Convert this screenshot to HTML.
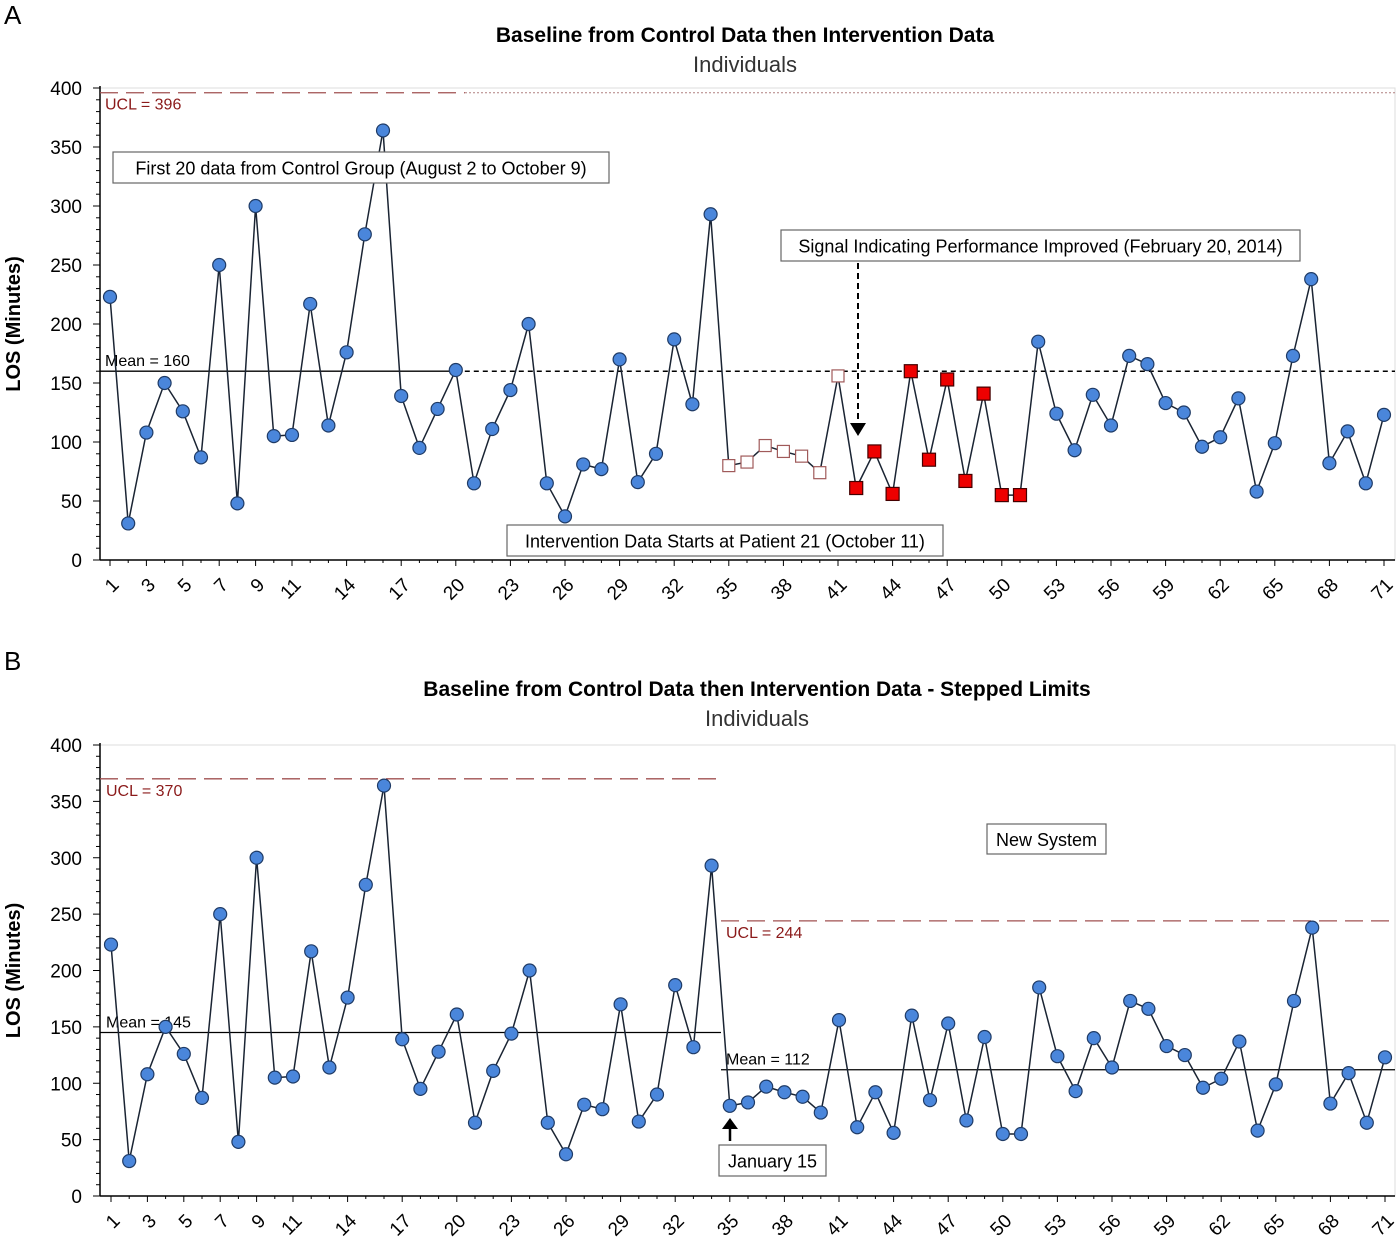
<!DOCTYPE html>
<html><head><meta charset="utf-8"><style>
body{margin:0;background:#fff;}
svg{display:block;font-family:"Liberation Sans",sans-serif;}
</style></head><body>
<svg id="svg" width="1400" height="1243" viewBox="0 0 1400 1243" xmlns="http://www.w3.org/2000/svg"></svg>
<script>
const patients = Array.from({length:71},(_,i)=>i+1);
const losValues = [223,31,108,150,126,87,250,48,300,105,106,217,114,176,276,364,139,95,128,161,65,111,144,200,65,37,81,77,170,66,90,187,132,293,80,83,97,92,88,74,156,61,92,56,160,85,153,67,141,55,55,185,124,93,140,114,173,166,133,125,96,104,137,58,99,173,238,82,109,65,123];
// marker type per patient: c=circle, o=open square, r=red square (chart A)
const markerTypesA = "cccccccccccccccccccccccccccccccccc" + "ooooooo" + "rrrrrrrrrr" + "cccccccccccccccccccc";
const xTickLabels = [1,3,5,7,9,11,14,17,20,23,26,29,32,35,38,41,44,47,50,53,56,59,62,65,68,71];
const yTicks = [0,50,100,150,200,250,300,350,400];
const meanA = 160, uclA = 396;
const meanB1 = 145, uclB1 = 370, meanB2 = 112, uclB2 = 244;

const NS="http://www.w3.org/2000/svg";
const svg=document.getElementById('svg');
function el(tag,attrs,parent){const e=document.createElementNS(NS,tag);for(const k in attrs)e.setAttribute(k,attrs[k]);(parent||svg).appendChild(e);return e;}
function txt(s,attrs,parent){const e=el('text',attrs,parent);e.textContent=s;return e;}

function chart(cfg){
  const g=el('g',{});
  
  
  const X=p=>cfg.x1+(p-1)*(cfg.x71-cfg.x1)/70;
  const Y=v=>cfg.y0-(v/400)*(cfg.y0-cfg.y400);
  const fr=el('rect',{x:100,y:cfg.y400,width:1295,height:cfg.y0-cfg.y400,fill:'none',stroke:'#ddd','stroke-width':1},g);
  
  const ya=el('line',{x1:100,y1:cfg.y400-2,x2:100,y2:cfg.y0,stroke:'#000','stroke-width':1.5},g);
  
  const xa=el('line',{x1:100,y1:cfg.y0,x2:1395,y2:cfg.y0,stroke:'#000','stroke-width':1.5},g);
  
  for(let v=0;v<=400;v+=10){el('line',{x1:v%50?96:93,y1:Y(v),x2:100,y2:Y(v),stroke:'#000','stroke-width':1},g);}
  yTicks.forEach(v=>{const t=txt(String(v),{x:82,y:Y(v)+7,'font-size':19,'text-anchor':'end'},g);
    });
  patients.forEach(p=>el('line',{x1:X(p),y1:cfg.y0,x2:X(p),y2:cfg.y0+(xTickLabels.includes(p)?6:3),stroke:'#000','stroke-width':1},g));
  xTickLabels.forEach(p=>{const t=txt(String(p),{x:0,y:0,'font-size':19,'text-anchor':'end',transform:`translate(${X(p)+10},${cfg.y0+26}) rotate(-45)`},g);
    });
  const yt=txt('LOS (Minutes)',{x:0,y:0,'font-size':20,'font-weight':'bold','text-anchor':'middle',transform:`translate(20,${(cfg.y0+cfg.y400)/2}) rotate(-90)`},g);
  
  const t1=txt(cfg.title,{x:cfg.tx,y:cfg.ty,'font-size':21,'font-weight':'bold','text-anchor':'middle'},g);
  
  const t2=txt('Individuals',{x:cfg.tx,y:cfg.ty+30,'font-size':22,fill:'#333','text-anchor':'middle'},g);
  
  const pl=txt(cfg.panel,{x:4,y:cfg.panelY,'font-size':26},g);
  
  cfg.extra(g,X,Y);
  const pts=patients.map((p,i)=>X(p)+','+Y(losValues[i])).join(' ');
  const ln=el('polyline',{points:pts,fill:'none',stroke:'#1a2433','stroke-width':1.5},g);
  
  patients.forEach((p,i)=>{
    const t=cfg.types?cfg.types[i]:'c';const cx=X(p),cy=Y(losValues[i]);let m;
    if(t==='c'){m=el('circle',{cx,cy,r:6.5,fill:'#4a86db',stroke:'#1f3b66','stroke-width':1.2},g);}
    else if(t==='o'){m=el('rect',{x:cx-6,y:cy-6,width:12,height:12,fill:'#fff',stroke:'#a05a5a','stroke-width':1.2},g);}
    else {m=el('rect',{x:cx-6.5,y:cy-6.5,width:13,height:13,fill:'#ee0000',stroke:'#400','stroke-width':1.2},g);}
    
    
  });
  (cfg.after||(()=>{}))(g,X,Y);
}
function box(g,x,y,w,h,s,name){const r=el('rect',{x,y,width:w,height:h,fill:'#fff',stroke:'#666','stroke-width':1.2},g);
  
  const t=txt(s,{x:x+w/2,y:y+h/2+7,'font-size':18,'text-anchor':'middle'},g);
  }

chart({name:'chart-a',panel:'A',panelY:24,x1:110,x71:1384,y0:560,y400:88,tx:745,ty:42,types:markerTypesA,
 title:'Baseline from Control Data then Intervention Data',
 extra:(g,X,Y)=>{
  const u1=el('line',{x1:100,y1:Y(uclA),x2:465,y2:Y(uclA),stroke:'#a05050','stroke-width':1.3,'stroke-dasharray':'18,8'},g);
  
  el('line',{x1:465,y1:Y(uclA),x2:1395,y2:Y(uclA),stroke:'#b08080','stroke-width':1,'stroke-dasharray':'2,2'},g);
  const ul=txt('UCL = 396',{x:105,y:Y(uclA)+17,'font-size':16,fill:'#8b1a1a'},g);
  const m1=el('line',{x1:100,y1:Y(meanA),x2:X(20),y2:Y(meanA),stroke:'#000','stroke-width':1.3},g);
  
  el('line',{x1:X(20),y1:Y(meanA),x2:1395,y2:Y(meanA),stroke:'#000','stroke-width':1.5,'stroke-dasharray':'5,4'},g);
  const ml=txt('Mean = 160',{x:105,y:Y(meanA)-5,'font-size':16},g);
 },
 after:(g,X,Y)=>{
  box(g,113,152,496,31,'First 20 data from Control Group (August 2 to October 9)','control-group-annotation');
  box(g,781,230,519,31,'Signal Indicating Performance Improved (February 20, 2014)','signal-annotation');
  box(g,507,525,436,31,'Intervention Data Starts at Patient 21 (October 11)','intervention-annotation');
  el('line',{x1:858,y1:263,x2:858,y2:425,stroke:'#000','stroke-width':2,'stroke-dasharray':'6,4'},g);
  const a=el('polygon',{points:'850,423 866,423 858,436',fill:'#000'},g);
 }});

chart({name:'chart-b',panel:'B',panelY:670,x1:111,x71:1385,y0:1196,y400:745,tx:757,ty:696,
 title:'Baseline from Control Data then Intervention Data - Stepped Limits',
 extra:(g,X,Y)=>{
  const sx=721;
  const u1=el('line',{x1:100,y1:Y(uclB1),x2:sx,y2:Y(uclB1),stroke:'#a05050','stroke-width':1.3,'stroke-dasharray':'18,8'},g);
  
  const u2=el('line',{x1:sx,y1:Y(uclB2),x2:1395,y2:Y(uclB2),stroke:'#a05050','stroke-width':1.3,'stroke-dasharray':'18,8'},g);
  
  const l1=txt('UCL = 370',{x:106,y:Y(uclB1)+17,'font-size':16,fill:'#8b1a1a'},g);
  const l2=txt('UCL = 244',{x:726,y:Y(uclB2)+17,'font-size':16,fill:'#8b1a1a'},g);
  const m1=el('line',{x1:100,y1:Y(meanB1),x2:sx,y2:Y(meanB1),stroke:'#000','stroke-width':1.3},g);
  
  const m2=el('line',{x1:sx,y1:Y(meanB2),x2:1395,y2:Y(meanB2),stroke:'#000','stroke-width':1.3},g);
  
  const a1=txt('Mean = 145',{x:106,y:Y(meanB1)-5,'font-size':16},g);
  const a2=txt('Mean = 112',{x:726,y:Y(meanB2)-5,'font-size':16},g);
 },
 after:(g,X,Y)=>{
  box(g,987,824,119,30,'New System','new-system-annotation');
  box(g,719,1145,107,31,'January 15','january-15-annotation');
  el('line',{x1:730,y1:1141,x2:730,y2:1126,stroke:'#000','stroke-width':2.5},g);
  const a=el('polygon',{points:'722,1129 738,1129 730,1118',fill:'#000'},g);
 }});
</script>
</body></html>
